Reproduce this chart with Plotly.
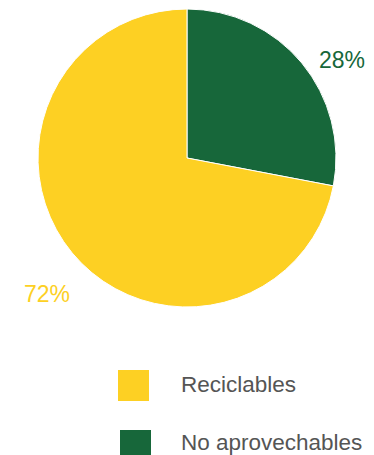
import plotly.graph_objects as go

categories = ["Reciclables", "No aprovechables"]
values = [72, 28]
colors = ["#FDD023", "#17673A"]
pct_labels = ["72%", "28%"]

W, H = 374, 455
cx, cy, r = 187, 158, 149

fig = go.Figure()
fig.add_trace(go.Pie(
    labels=categories[::-1],
    values=values[::-1],
    marker=dict(colors=colors[::-1], line=dict(color="white", width=1)),
    sort=False,
    direction="clockwise",
    rotation=0,
    textinfo="none",
    hoverinfo="label+percent",
    showlegend=False,
    domain=dict(x=[(cx - r) / W, (cx + r) / W], y=[1 - (cy + r) / H, 1 - (cy - r) / H]),
))

font_fam = "'Liberation Sans', Arial, sans-serif"

# percentage labels
label_pos = {"72%": (22, 294), "28%": (317, 60)}
for lab, col in zip(pct_labels, colors):
    x, y = label_pos[lab]
    fig.add_annotation(x=x / W, y=1 - y / H, xref="paper", yref="paper", text=lab,
                       showarrow=False, font=dict(family=font_fam, size=23, color=col, weight=300),
                       xanchor="left", yanchor="middle")

# manual legend
leg_rows = [(118, 370, 384), (120, 430, 442)]
for (sx, sy, ty), cat, col in zip(leg_rows, categories, colors):
    fig.add_shape(type="rect", xref="paper", yref="paper",
                  x0=sx / W, x1=(sx + 31) / W, y0=1 - (sy + 31) / H, y1=1 - sy / H,
                  fillcolor=col, line=dict(width=0))
    fig.add_annotation(x=179 / W, y=1 - ty / H, xref="paper", yref="paper", text=cat,
                       showarrow=False, font=dict(family=font_fam, size=22.5, color="#555555", weight=300),
                       xanchor="left", yanchor="middle")

fig.update_layout(width=W, height=H, margin=dict(l=0, r=0, t=0, b=0),
                  paper_bgcolor="white", plot_bgcolor="white")

fig.write_html("out.html")
